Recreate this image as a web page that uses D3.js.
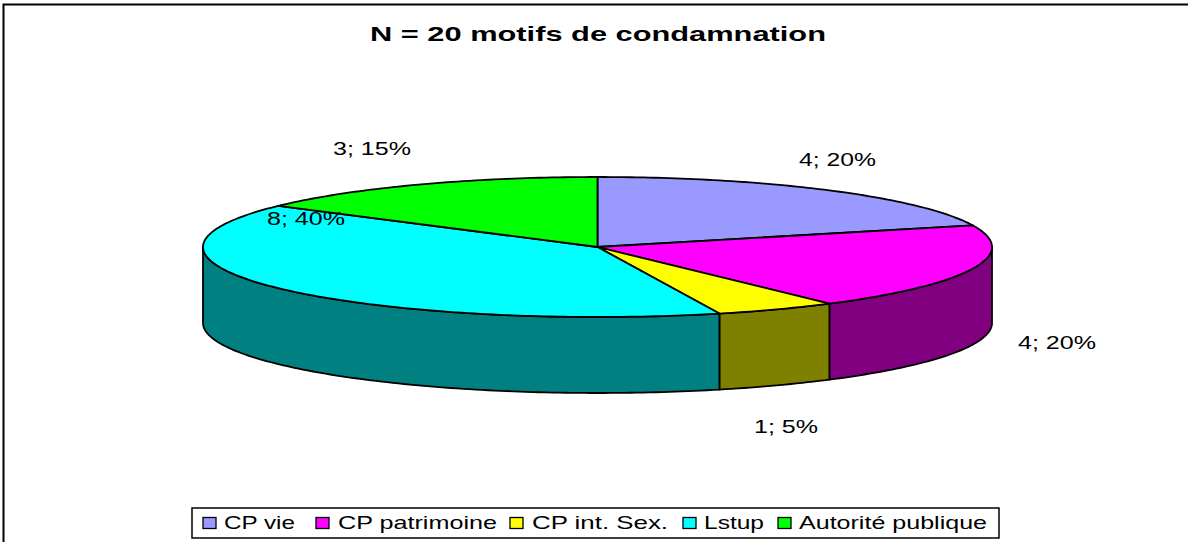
<!DOCTYPE html>
<html><head><meta charset="utf-8">
<script src="https://cdn.jsdelivr.net/npm/d3@7"></script>
<style>html,body{margin:0;padding:0;background:#fff}svg{display:block}text{font-family:"Liberation Sans",Arial,sans-serif;fill:#000}</style>
</head><body><svg id="c" width="1188" height="542"></svg>
<script>
const chartTitle = "N = 20 motifs de condamnation";
const categories = ["CP vie","CP patrimoine","CP int. Sex.","Lstup","Autorité publique"];
const values = [4,4,1,8,3];
const percents = [20,20,5,40,15];
const topColors = ["#9999ff","#ff00ff","#ffff00","#00ffff","#00ff00"];
const sideColors = ["#4d4d80","#800080","#808000","#008080","#008000"];
// layout (label left edge, baseline, stretched width)
const labelLayout = [[799,166,77],[1018,349,78],[754,433,64],[267,225,78],[333,155,78]];
const legendLayout = [[203,224,71],[316,338,159],[510,532,136],[683,704,60],[778,799,188]];

const svg = d3.select("#c");
const cx=597.5, cy=247, rx=394.5, ry=70, depth=76;
const px = d3.scaleLinear().domain([-1,1]).range([cx-rx,cx+rx]);
const py = d3.scaleLinear().domain([-1,1]).range([cy-ry,cy+ry]);
const arcs = d3.pie().sort(null)(values);
const pt = (a,dy=0)=>[px(Math.sin(a)),py(-Math.cos(a))+dy];
const rim = (a0,a1,dy=0)=>{ const n=Math.max(2,Math.ceil((a1-a0)*60)); return d3.range(n+1).map(i=>pt(a0+(a1-a0)*i/n,dy)); };
const line = d3.line();
const stretched = (sel,w)=>sel.attr("textLength",w).attr("lengthAdjust","spacingAndGlyphs");

svg.append("path").attr("d","M3.5,542 V4.5 H1188").attr("fill","none").attr("stroke","#000").attr("stroke-width",2);

stretched(svg.append("text").attr("x",370).attr("y",41)
  .attr("font-size",21).attr("font-weight","bold").text(chartTitle),456);

const front0=Math.PI/2, front1=Math.PI*1.5;
arcs.forEach((d,i)=>{
  const a0=Math.max(d.startAngle,front0), a1=Math.min(d.endAngle,front1);
  if(a1<=a0) return;
  const pts=rim(a0,a1).concat(rim(a0,a1,depth).reverse());
  svg.append("path").attr("d",line(pts)+"Z").attr("fill",sideColors[i]).attr("stroke","#000").attr("stroke-width",1.8).attr("stroke-linejoin","round");
});
arcs.forEach((d,i)=>{
  const pts=[[cx,cy]].concat(rim(d.startAngle,d.endAngle));
  svg.append("path").attr("d",line(pts)+"Z").attr("fill",topColors[i]).attr("stroke","#000").attr("stroke-width",1.8).attr("stroke-linejoin","round");
});
values.forEach((v,i)=>{
  const [x,y,w]=labelLayout[i];
  stretched(svg.append("text").attr("x",x).attr("y",y).attr("font-size",19).text(v+"; "+percents[i]+"%"),w);
});
const lg=svg.append("g");
lg.append("rect").attr("x",192).attr("y",508).attr("width",807).attr("height",30).attr("fill","#fff").attr("stroke","#000").attr("stroke-width",1.5);
categories.forEach((c,i)=>{
  const [sx,tx,w]=legendLayout[i];
  lg.append("rect").attr("x",sx).attr("y",517.5).attr("width",13).attr("height",11).attr("fill",topColors[i]).attr("stroke","#000").attr("stroke-width",1.3);
  stretched(lg.append("text").attr("x",tx).attr("y",529).attr("font-size",18.5).text(c),w);
});
</script></body></html>
